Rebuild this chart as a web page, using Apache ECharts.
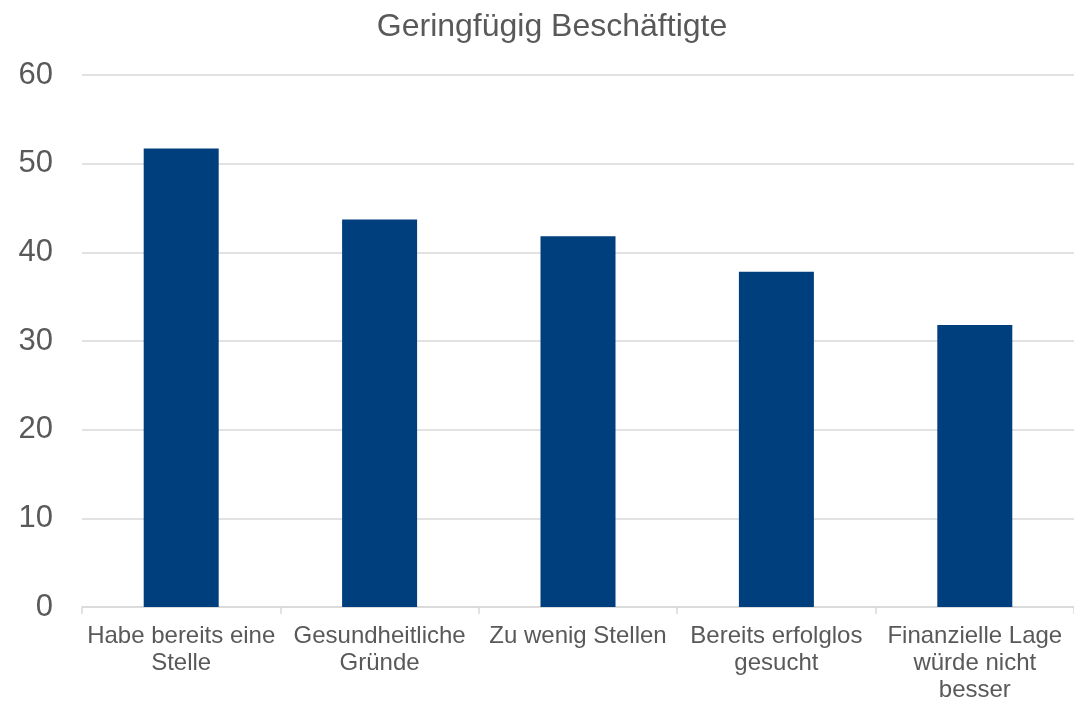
<!DOCTYPE html>
<html>
<head>
<meta charset="utf-8">
<script src="https://cdn.jsdelivr.net/npm/echarts@6/dist/echarts.min.js"></script>
<style>
html,body{margin:0;padding:0;background:#fff;}
#chart{width:1074px;height:701px;}
</style>
</head>
<body>
<div id="chart"></div>
<script>
const title = "Geringfügig Beschäftigte";
const categories = [
  "Habe bereits eine\nStelle",
  "Gesundheitliche\nGründe",
  "Zu wenig Stellen",
  "Bereits erfolglos\ngesucht",
  "Finanzielle Lage\nwürde nicht\nbesser"
];
const values = [51.7, 43.7, 41.8, 37.8, 31.8];
const yTicks = { min: 0, max: 60, interval: 10 };

const chart = echarts.init(document.getElementById('chart'));
chart.setOption({
  backgroundColor: '#ffffff',
  animation: false,
  title: {
    text: title,
    left: 552,
    top: 11,
    padding: 0,
    textAlign: 'center',
    textStyle: { fontFamily: 'Liberation Sans', fontSize: 32, fontWeight: 'normal', color: '#595959' }
  },
  grid: { left: 82, right: 0, top: 75, bottom: 94, containLabel: false, outerBoundsMode: 'none' },
  xAxis: {
    type: 'category',
    data: categories,
    axisLine: { show: true, lineStyle: { color: '#d9d9d9', width: 1.5 } },
    axisTick: { show: true, length: 7, lineStyle: { color: '#d9d9d9', width: 1.5 } },
    axisLabel: {
      interval: 0,
      margin: 16,
      fontFamily: 'Liberation Sans',
      fontSize: 24,
      lineHeight: 27,
      color: '#595959',
      align: 'center'
    }
  },
  yAxis: {
    type: 'value',
    min: yTicks.min,
    max: yTicks.max,
    interval: yTicks.interval,
    axisLine: { show: false },
    axisTick: { show: false },
    splitLine: { show: true, lineStyle: { color: '#d9d9d9', width: 1.5 } },
    axisLabel: {
      margin: 29,
      fontFamily: 'Liberation Sans',
      fontSize: 31,
      color: '#595959'
    }
  },
  series: [{
    type: 'bar',
    data: values,
    barWidth: 75,
    itemStyle: { color: '#003f7d' }
  }]
});
</script>
</body>
</html>
